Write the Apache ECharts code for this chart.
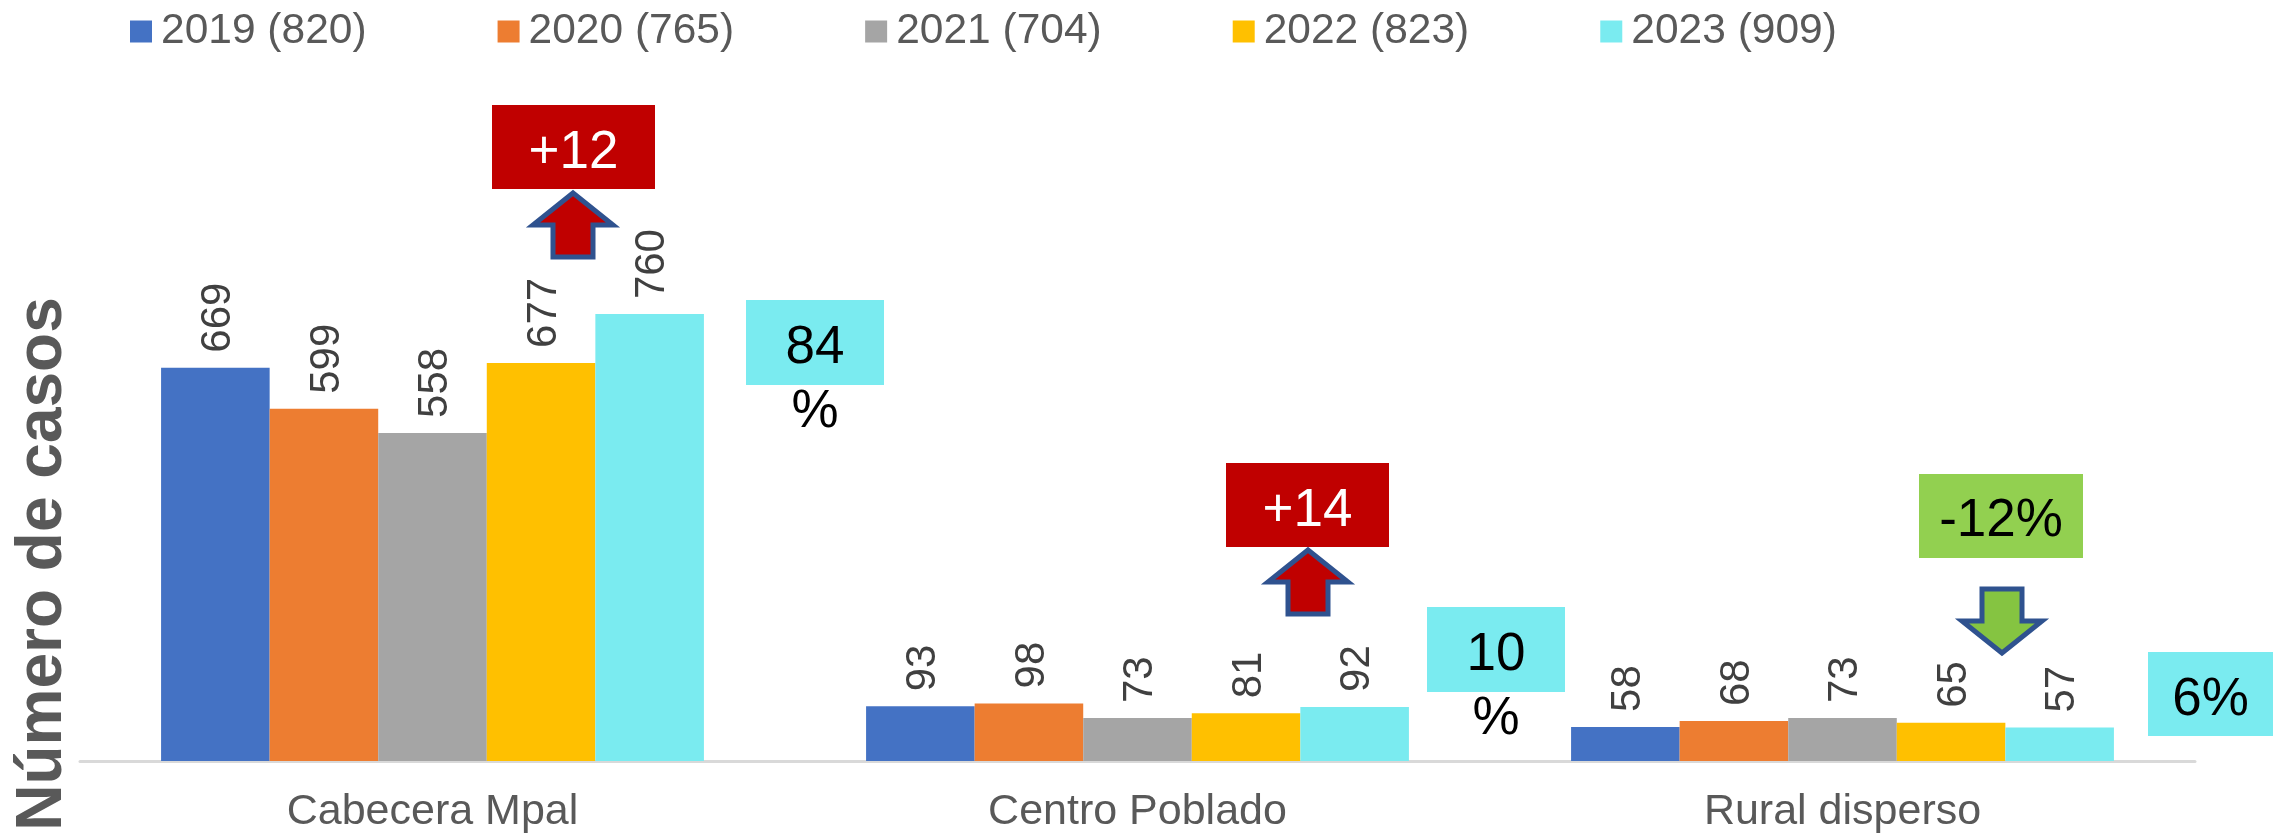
<!DOCTYPE html>
<html lang="es">
  <head>
    <meta charset="UTF-8" />
    <title>Número de casos</title>
    <script src="https://cdn.jsdelivr.net/npm/echarts@6/dist/echarts.min.js"></script>
    <style>
      html,
      body {
        margin: 0;
        padding: 0;
        background: #fff;
      }
      #chart {
        width: 2282px;
        height: 836px;
      }
    </style>
  </head>
  <body>
    <div id="chart"></div>
    <script>
      const categories = ["Cabecera Mpal", "Centro Poblado", "Rural disperso"];
      const seriesNames = ["2019 (820)", "2020 (765)", "2021 (704)", "2022 (823)", "2023 (909)"];
      const v2019 = [669, 93, 58];
      const v2020 = [599, 98, 68];
      const v2021 = [558, 73, 73];
      const v2022 = [677, 81, 65];
      const v2023 = [760, 92, 57];
      const colors = ["#4472C4", "#ED7D31", "#A5A5A5", "#FFC000", "#7AEBF0"];

      const FONT = "Liberation Sans, Arial, sans-serif";
      const chart = echarts.init(document.getElementById("chart"));

      // box with a centered text, lines are placed one by one
      function box(x, y, w, h, fill, lines, color) {
        const out = [{ type: "rect", shape: { x, y, width: w, height: h }, style: { fill } }];
        lines.forEach((l) => {
          out.push({
            type: "text",
            z: 10,
            style: {
              text: l[0],
              x: x + w / 2,
              y: l[1],
              fill: color,
              fontSize: 53,
              fontFamily: FONT,
              textAlign: "center",
              textVerticalAlign: "middle",
            },
          });
        });
        return out;
      }

      // block arrow, dir -1 points up, 1 points down
      function arrow(cx, tipY, dir, fill) {
        const pts = [
          [0, 0],
          [40, 32],
          [20, 32],
          [20, 64],
          [-20, 64],
          [-20, 32],
          [-40, 32],
        ].map((p) => [cx + p[0], tipY - dir * p[1]]);
        return {
          type: "polygon",
          shape: { points: pts },
          style: { fill, stroke: "#2F528F", lineWidth: 5, lineJoin: "miter" },
        };
      }

      const annotations = [].concat(
        box(492, 105, 163, 84, "#C00000", [["+12", 153]], "#fff"),
        box(1226, 463, 163, 84, "#C00000", [["+14", 511]], "#fff"),
        box(1919, 474, 164, 84, "#92D050", [["-12%", 521]], "#000"),
        box(746, 300, 138, 85, "#7AEBF0", [["84", 348], ["%", 412]], "#000"),
        box(1427, 607, 138, 85, "#7AEBF0", [["10", 655], ["%", 719]], "#000"),
        box(2148, 652, 125, 84, "#7AEBF0", [["6%", 700]], "#000"),
        [
          arrow(573, 193, -1, "#C00000"),
          arrow(1308, 550, -1, "#C00000"),
          arrow(2002, 653, 1, "#85C441"),
          {
            type: "text",
            rotation: Math.PI / 2,
            x: 43,
            y: 564,
            style: {
              text: "Número de casos",
              fill: "#595959",
              fontSize: 64,
              fontWeight: "bold",
              fontFamily: FONT,
              textAlign: "center",
              textVerticalAlign: "middle",
            },
          },
        ]
      );

      const values = [v2019, v2020, v2021, v2022, v2023];

      chart.setOption({
        animation: false,
        color: colors,
        backgroundColor: "#fff",
        legend: {
          left: 125,
          top: 5,
          itemWidth: 22,
          itemHeight: 22,
          itemGap: 131,
          icon: "rect",
          textStyle: { fontSize: 42.5, fontFamily: FONT, color: "#595959", padding: [0, 0, 0, 4] },
          data: seriesNames,
        },
        grid: { left: 80, width: 2115, top: 173, bottom: 75 },
        xAxis: {
          type: "category",
          data: categories,
          axisTick: { show: false },
          axisLine: { lineStyle: { color: "#D9D9D9", width: 3 } },
          axisLabel: { fontSize: 43, fontFamily: FONT, color: "#595959", margin: 30 },
        },
        yAxis: { type: "value", min: 0, max: 1000, show: false },
        series: seriesNames.map((name, i) => ({
          name,
          type: "bar",
          barGap: 0,
          barCategoryGap: "23%",
          data: values[i],
          label: {
            show: true,
            position: "top",
            distance: 15,
            rotate: 90,
            align: "left",
            verticalAlign: "middle",
            offset: [0, 3],
            fontSize: 42,
            fontFamily: FONT,
            color: "#404040",
          },
        })),
        graphic: annotations,
      });
    </script>
  </body>
</html>
